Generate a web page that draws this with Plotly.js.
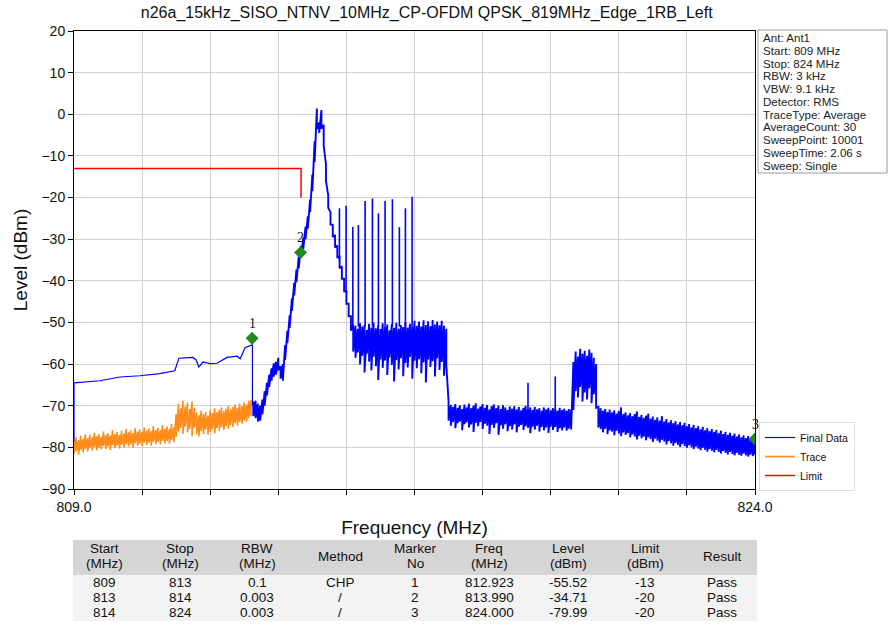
<!DOCTYPE html>
<html><head><meta charset="utf-8">
<script src="https://cdn.plot.ly/plotly-3.0.1.min.js"></script>
<style>html,body{margin:0;padding:0;background:#fff}#chart{width:889px;height:627px}</style>
</head><body><div id="chart"></div>
<script>
// ---------- DATA ----------
const chartTitle = 'n26a_15kHz_SISO_NTNV_10MHz_CP-OFDM QPSK_819MHz_Edge_1RB_Left';
const xTickVals = [809, 810.5, 812, 813.5, 815, 816.5, 818, 819.5, 821, 822.5, 824];
const xTickText = ['809.0', '', '', '', '', '', '', '', '', '', '824.0'];

// Final Data, 100 kHz CHP part (809 - 812.93 MHz)
const chpFreq  = [809.0, 809.0, 809.57, 810.01, 810.45, 810.89, 811.22, 811.27, 811.31, 811.45, 811.62, 811.69, 811.75, 811.84, 812.0, 812.15, 812.37, 812.59, 812.66, 812.77, 812.93, 812.93];
const chpLevel = [-80, -64.5, -64.0, -63.1, -62.8, -62.3, -61.6, -59.6, -58.6, -58.5, -58.4, -59.0, -60.7, -59.5, -59.9, -59.8, -58.4, -58.1, -58.7, -56.0, -55.4, -70.0];

// Final Data, noisy 3 kHz part: frequency, upper and lower edge of the noise
const blueFreq = [
 812.95,813.00,813.05,813.10,813.15,813.20,813.25,813.30,813.35,813.40,
 813.45,813.50,813.55,813.60,813.65,813.70,813.75,813.80,813.85,813.90,
 813.95,814.00,814.05,814.10,814.15,814.20,814.25,814.30,814.35,814.40,
 814.45,814.50,814.55,814.60,814.65,814.70,814.75,814.80,814.85,814.90,
 814.95,815.00,815.05,815.10,815.15,815.20,815.25,815.30,815.35,815.40,
 815.45,815.50,815.55,815.60,815.65,815.70,815.75,815.80,815.85,815.90,
 815.95,816.00,816.05,816.10,816.15,816.20,816.25,816.30,816.35,816.40,
 816.45,816.50,816.55,816.60,816.65,816.70,816.75,816.80,816.85,816.90,
 816.95,817.00,817.05,817.10,817.15,817.20,817.25,817.30,817.35,817.40,
 817.45,817.50,817.55,817.60,817.65,817.70,817.75,817.80,817.85,817.90,
 817.95,818.00,818.05,818.10,818.15,818.20,818.25,818.30,818.35,818.40,
 818.45,818.50,818.55,818.60,818.65,818.70,818.75,818.80,818.85,818.90,
 818.95,819.00,819.05,819.10,819.15,819.20,819.25,819.30,819.35,819.40,
 819.45,819.50,819.55,819.60,819.65,819.70,819.75,819.80,819.85,819.90,
 819.95,820.00,820.05,820.10,820.15,820.20,820.25,820.30,820.35,820.40,
 820.45,820.50,820.55,820.60,820.65,820.70,820.75,820.80,820.85,820.90,
 820.95,821.00,821.05,821.10,821.15,821.20,821.25,821.30,821.35,821.40,
 821.45,821.50,821.55,821.60,821.65,821.70,821.75,821.80,821.85,821.90,
 821.95,822.00,822.05,822.10,822.15,822.20,822.25,822.30,822.35,822.40,
 822.45,822.50,822.55,822.60,822.65,822.70,822.75,822.80,822.85,822.90,
 822.95,823.00,823.05,823.10,823.15,823.20,823.25,823.30,823.35,823.40,
 823.45,823.50,823.55,823.60,823.65,823.70,823.75,823.80,823.85,823.90,
 823.95,824.00];
const blueHi = [
 -69.0,-68.8,-69.5,-70.0,-68.5,-66.5,-64.5,-62.5,-61.0,-59.8,
 -59.5,-58.5,-60.5,-60.0,-55.5,-52.0,-48.3,-44.2,-40.5,-37.3,
 -34.2,-31.6,-29.6,-27.0,-24.5,-20.5,-14.5,-6.5,1.4,-2.0,
 1.0,-2.5,-12.0,-19.5,-23.5,-26.5,-29.0,-31.5,-34.0,-36.5,
 -39.5,-42.5,-45.5,-48.5,-50.5,-50.8,-51.5,-50.2,-51.0,-50.6,
 -51.8,-50.3,-51.2,-50.0,-51.4,-50.7,-51.6,-50.2,-51.0,-50.5,
 -51.9,-50.4,-51.3,-50.1,-51.5,-50.6,-51.1,-49.9,-51.2,-50.3,
 -50.9,-49.6,-50.8,-49.8,-51.0,-49.5,-50.6,-49.7,-50.9,-49.4,
 -50.5,-49.8,-50.7,-49.6,-50.8,-51.5,-69.0,-69.8,-70.3,-69.6,
 -70.5,-69.9,-70.8,-69.7,-70.4,-69.5,-70.6,-70.0,-69.4,-70.7,
 -70.2,-69.6,-70.5,-69.8,-70.9,-70.1,-69.7,-70.6,-70.0,-70.8,
 -69.9,-70.4,-71.0,-70.2,-70.7,-70.1,-70.9,-70.3,-71.1,-70.5,
 -70.0,-70.8,-70.4,-71.0,-70.3,-70.9,-70.6,-71.2,-70.4,-70.9,
 -70.5,-71.1,-70.6,-70.8,-71.2,-70.5,-71.0,-70.7,-71.2,-70.8,
 -71.0,-59.5,-57.0,-58.2,-56.3,-57.5,-56.8,-58.0,-56.5,-57.3,
 -58.5,-60.0,-70.3,-70.6,-71.2,-70.8,-71.5,-70.9,-71.6,-71.1,
 -71.9,-71.3,-70.4,-72.0,-71.6,-72.3,-71.8,-72.5,-72.0,-71.4,
 -72.7,-72.2,-72.9,-72.4,-71.9,-73.1,-72.6,-73.4,-72.8,-73.6,
 -72.5,-73.8,-73.2,-74.0,-73.5,-74.2,-73.7,-74.5,-73.9,-74.7,
 -74.1,-74.9,-74.4,-75.2,-74.6,-75.4,-74.9,-75.7,-75.1,-75.9,
 -75.4,-76.1,-75.6,-76.3,-75.8,-76.6,-76.0,-76.8,-76.3,-77.0,
 -76.5,-77.2,-76.7,-77.4,-76.9,-77.6,-77.1,-77.8,-77.3,-78.0,
 -77.6,-78.2];
const blueLo = [
 -72.5,-73.0,-73.8,-73.6,-72.0,-70.0,-67.5,-65.5,-64.0,-63.0,
 -62.5,-61.5,-63.5,-64.0,-59.0,-55.0,-51.3,-47.2,-43.5,-40.3,
 -37.0,-34.4,-32.4,-30.0,-27.5,-23.5,-18.5,-11.5,-3.5,-4.5,
 -3.5,-7.5,-16.0,-22.5,-26.5,-29.5,-32.0,-34.5,-37.0,-39.5,
 -42.5,-45.5,-48.5,-52.0,-57.0,-58.5,-57.2,-60.1,-58.0,-62.0,
 -57.5,-59.4,-61.5,-58.2,-60.5,-63.8,-58.9,-60.9,-59.1,-62.6,
 -58.4,-60.2,-64.2,-59.0,-61.3,-58.6,-62.9,-59.7,-60.8,-58.3,
 -63.5,-59.2,-61.0,-58.8,-62.2,-59.6,-64.4,-58.9,-60.7,-59.3,
 -63.0,-58.6,-61.4,-59.5,-62.8,-60.0,-73.6,-74.8,-73.9,-75.4,
 -74.2,-73.8,-75.9,-74.4,-74.0,-75.2,-74.5,-76.3,-74.1,-74.9,
 -73.9,-75.6,-74.3,-74.8,-76.8,-74.6,-75.3,-74.2,-77.0,-74.7,
 -75.5,-74.4,-76.1,-74.9,-75.7,-74.5,-76.4,-75.0,-74.6,-75.8,
 -74.9,-75.3,-76.6,-75.0,-75.7,-74.8,-76.2,-75.1,-75.9,-75.2,
 -76.5,-75.0,-75.8,-75.1,-76.3,-75.4,-75.9,-75.2,-76.0,-75.5,
 -75.7,-71.0,-66.5,-68.0,-65.5,-69.0,-66.8,-68.5,-65.8,-69.4,
 -67.2,-70.5,-75.2,-75.6,-76.4,-75.5,-76.8,-75.9,-76.2,-77.1,
 -76.0,-76.7,-77.3,-76.4,-77.0,-76.6,-77.6,-76.9,-77.4,-78.1,
 -77.2,-77.8,-77.4,-78.3,-77.6,-78.0,-78.7,-77.9,-78.4,-78.9,
 -78.2,-78.6,-79.3,-78.5,-79.0,-79.6,-78.9,-79.4,-79.9,-79.2,
 -79.7,-80.1,-79.5,-80.0,-80.4,-79.8,-80.3,-80.7,-80.1,-80.6,
 -81.0,-80.4,-80.8,-81.2,-80.6,-81.1,-81.5,-80.9,-81.3,-81.7,
 -81.1,-81.6,-81.9,-81.3,-81.8,-82.0,-81.5,-81.9,-82.2,-81.7,
 -82.1,-81.8];

// Narrow spurs on the Final Data trace
const spurFreq  = [814.846, 814.993, 815.141, 815.264, 815.412, 815.573, 815.705, 815.852, 816.013, 816.167, 816.300, 816.447, 819.00, 819.60];
const spurTop   = [-22.6, -22.0, -27.0, -26.6, -20.8, -20.2, -23.8, -20.8, -20.4, -27.1, -22.6, -19.8, -64.5, -63.0];
const spurBase  = [-35.0, -43.0, -51.0, -51.0, -51.0, -51.0, -51.0, -51.0, -51.0, -51.0, -51.0, -51.0, -71.0, -71.0];

// Trace (orange), 809 - 812.90 MHz
const orangeFreq = [
 809.00,809.05,809.10,809.15,809.20,809.25,809.30,809.35,809.40,809.45,
 809.50,809.55,809.60,809.65,809.70,809.75,809.80,809.85,809.90,809.95,
 810.00,810.05,810.10,810.15,810.20,810.25,810.30,810.35,810.40,810.45,
 810.50,810.55,810.60,810.65,810.70,810.75,810.80,810.85,810.90,810.95,
 811.00,811.05,811.10,811.15,811.20,811.25,811.30,811.35,811.40,811.45,
 811.50,811.55,811.60,811.65,811.70,811.75,811.80,811.85,811.90,811.95,
 812.00,812.05,812.10,812.15,812.20,812.25,812.30,812.35,812.40,812.45,
 812.50,812.55,812.60,812.65,812.70,812.75,812.80,812.85,812.90];
const orangeHi = [
 -78.5,-77.6,-78.3,-77.2,-78.0,-76.9,-77.8,-77.0,-77.6,-76.5,
 -77.3,-76.8,-77.5,-76.2,-77.0,-76.6,-77.2,-75.9,-76.8,-76.3,
 -77.0,-76.0,-76.7,-75.6,-76.4,-75.9,-76.6,-75.4,-76.2,-75.7,
 -76.3,-75.2,-76.0,-75.5,-76.1,-74.9,-75.8,-75.3,-75.9,-74.6,
 -75.5,-75.0,-75.6,-74.4,-75.2,-72.0,-69.5,-70.6,-68.8,-70.2,
 -69.3,-70.8,-69.0,-70.5,-71.6,-72.3,-71.2,-72.0,-71.5,-72.4,
 -71.0,-71.8,-70.6,-71.5,-71.0,-70.4,-71.3,-70.7,-70.1,-70.9,
 -70.3,-69.7,-70.5,-69.5,-70.1,-69.2,-69.7,-68.8,-68.6];
const orangeLo = [
 -81.5,-80.9,-81.8,-80.6,-81.2,-80.4,-81.0,-80.2,-80.8,-79.9,
 -80.7,-80.1,-80.5,-79.7,-80.4,-79.8,-80.6,-79.5,-80.2,-79.6,
 -80.3,-79.4,-80.0,-79.2,-79.8,-79.3,-80.1,-79.0,-79.6,-79.1,
 -79.7,-78.8,-79.4,-78.9,-79.6,-78.6,-79.2,-78.7,-79.3,-78.4,
 -79.0,-78.5,-79.1,-78.2,-78.8,-77.5,-76.2,-75.4,-76.8,-75.0,
 -76.4,-75.6,-77.3,-75.2,-76.9,-77.4,-76.1,-76.8,-75.7,-77.0,
 -76.3,-75.6,-76.6,-75.4,-76.0,-75.2,-75.8,-74.9,-75.5,-74.6,
 -75.1,-74.2,-74.8,-73.9,-74.3,-73.5,-73.8,-72.9,-72.5];

// Limit line
const limitFreq  = [809, 814, 814];
const limitLevel = [-13, -13, -20];

// Markers
const markerNo    = ['1', '2', '3'];
const markerFreq  = [812.923, 813.990, 824.000];
const markerLevel = [-53.8, -33.2, -78.0];

// Info box
const infoLines = ['Ant: Ant1', 'Start: 809 MHz', 'Stop: 824 MHz', 'RBW: 3 kHz', 'VBW: 9.1 kHz', 'Detector: RMS',
  'TraceType: Average', 'AverageCount: 30', 'SweepPoint: 10001', 'SweepTime: 2.06 s', 'Sweep: Single'];

// Result table
const tableHeader = [['Start', '(MHz)'], ['Stop', '(MHz)'], ['RBW', '(MHz)'], ['Method'], ['Marker', 'No'],
                     ['Freq', '(MHz)'], ['Level', '(dBm)'], ['Limit', '(dBm)'], ['Result']];
const colStart  = ['809', '813', '814'];
const colStop   = ['813', '814', '824'];
const colRBW    = ['0.1', '0.003', '0.003'];
const colMethod = ['CHP', '/', '/'];
const colMarker = ['1', '2', '3'];
const colFreq   = ['812.923', '813.990', '824.000'];
const colLevel  = ['-55.52', '-34.71', '-79.99'];
const colLimit  = ['-13', '-20', '-20'];
const colResult = ['Pass', 'Pass', 'Pass'];

// ---------- BUILD ----------
function zig(f, hi, lo) {
  const x = [], y = [];
  for (let i = 0; i < f.length; i++) { x.push(f[i], f[i]); y.push(hi[i], lo[i]); }
  return {x, y};
}
function spikes(f, top, base) {
  const x = [], y = [];
  for (let i = 0; i < f.length; i++) { x.push(f[i], f[i], null); y.push(base[i], top[i], null); }
  return {x, y};
}
const FONT = 'Liberation Sans, Arial, sans-serif';
const BLUE = '#0000ff', ORANGE = '#ff8c1a', RED = '#ff0000';
const blueZ = zig(blueFreq, blueHi, blueLo);
const orZ = zig(orangeFreq, orangeHi, orangeLo);
const sp = spikes(spurFreq, spurTop, spurBase);

// pixel helpers for layout placement (plot area: l=74, t=31)
const W = 889, H = 627, ML = 74, MR = 134, MT = 31, MB = 5;
const PW = W - ML - MR, PH = H - MT - MB;
const px = v => (v - ML) / PW;
const py = v => (H - MB - v) / PH;
const axisBottom = 489;

const traces = [
  {x: chpFreq, y: chpLevel, type: 'scatter', mode: 'lines', name: 'Final Data', legendgroup: 'fd',
   line: {color: BLUE, width: 1.2}},
  {x: blueZ.x, y: blueZ.y, type: 'scatter', mode: 'lines', showlegend: false, legendgroup: 'fd',
   line: {color: BLUE, width: 1.9}, hoverinfo: 'skip'},
  {x: sp.x, y: sp.y, type: 'scatter', mode: 'lines', showlegend: false, legendgroup: 'fd',
   line: {color: BLUE, width: 1.6}, hoverinfo: 'skip'},
  {x: orZ.x, y: orZ.y, type: 'scatter', mode: 'lines', name: 'Trace',
   line: {color: ORANGE, width: 1.6}},
  {x: limitFreq, y: limitLevel, type: 'scatter', mode: 'lines', name: 'Limit',
   line: {color: RED, width: 1.5}},
  {x: markerFreq, y: markerLevel, type: 'scatter', mode: 'markers', showlegend: false,
   marker: {symbol: 'diamond', size: 10, color: '#1f8a1f'}}
];

const annotations = markerNo.map((t, i) => ({
  x: markerFreq[i], y: markerLevel[i], xref: 'x', yref: 'y', text: t, showarrow: false,
  yshift: 15, font: {family: 'Liberation Serif, serif', size: 14, color: '#111'}
}));
infoLines.forEach((t, i) => annotations.push({
  x: px(762), y: py(37.7 + i * 12.73), xref: 'paper', yref: 'paper', xanchor: 'left', yanchor: 'middle',
  text: t, showarrow: false, borderpad: 0, font: {family: FONT, size: 11.6, color: '#222'}
}));

// table drawn as cells (shapes + text) from the table arrays
const colCenters = [104, 180, 257, 340, 415, 489, 568, 645, 722];
const rowCenters = [582, 597, 612];
const tableCols = [colStart, colStop, colRBW, colMethod, colMarker, colFreq, colLevel, colLimit, colResult];
const TFONT = {family: FONT, size: 13.5, color: '#111'};
tableHeader.forEach((lines, c) => {
  const ys = lines.length === 2 ? [548, 563] : [556];
  lines.forEach((t, k) => annotations.push({
    x: px(colCenters[c]), y: py(ys[k]), xref: 'paper', yref: 'paper', xanchor: 'center', yanchor: 'middle',
    text: t, showarrow: false, borderpad: 0, font: TFONT
  }));
});
tableCols.forEach((col, c) => col.forEach((t, r) => annotations.push({
  x: px(colCenters[c]), y: py(rowCenters[r]), xref: 'paper', yref: 'paper', xanchor: 'center', yanchor: 'middle',
  text: t, showarrow: false, borderpad: 0, font: TFONT
})));

const shapes = [
  {type: 'rect', xref: 'paper', yref: 'paper', x0: px(758), x1: px(887), y0: py(173), y1: py(30),
   line: {color: '#9a9a9a', width: 1}, fillcolor: 'rgba(0,0,0,0)'},
  {type: 'rect', xref: 'paper', yref: 'paper', x0: px(73), x1: px(757), y0: py(575), y1: py(540),
   line: {width: 0}, fillcolor: '#d5d5d5', layer: 'below'},
  {type: 'rect', xref: 'paper', yref: 'paper', x0: px(73), x1: px(757), y0: py(621), y1: py(575),
   line: {width: 0}, fillcolor: '#f3f3f3', layer: 'below'}
];

const layout = {
  width: W, height: H,
  margin: {l: ML, r: MR, t: MT, b: MB},
  paper_bgcolor: '#ffffff', plot_bgcolor: 'rgba(0,0,0,0)',
  font: {family: FONT, color: '#111'},
  title: {text: chartTitle, x: 0.48, xanchor: 'center', xref: 'container', y: 1 - 12 / H, yanchor: 'middle',
          font: {family: FONT, size: 16, color: '#111'}},
  xaxis: {range: [809, 824], tickmode: 'array', tickvals: xTickVals, ticktext: xTickText,
          showline: true, mirror: true, linecolor: '#000', linewidth: 1,
          ticks: 'outside', ticklen: 5, tickcolor: '#000', showgrid: true, gridcolor: '#d0d0d0', zeroline: false,
          tickfont: {family: FONT, size: 14, color: '#111'},
          title: {text: 'Frequency (MHz)', font: {family: FONT, size: 19, color: '#111'}, standoff: 6}},
  yaxis: {domain: [py(axisBottom), 1], range: [-90, 20], tick0: -90, dtick: 10,
          showline: true, mirror: true, linecolor: '#000', linewidth: 1,
          ticks: 'outside', ticklen: 5, tickcolor: '#000', showgrid: true, gridcolor: '#d0d0d0', zeroline: false,
          tickfont: {family: FONT, size: 14, color: '#111'},
          title: {text: 'Level (dBm)', font: {family: FONT, size: 19, color: '#111'}, standoff: 8}},
  legend: {x: px(759), y: py(491), xanchor: 'left', yanchor: 'bottom', bgcolor: '#ffffff',
           bordercolor: '#dddddd', borderwidth: 1, font: {family: FONT, size: 10.5, color: '#111'},
           itemwidth: 30, tracegroupgap: 0},
  shapes: shapes,
  annotations: annotations,
  showlegend: true
};

Plotly.newPlot('chart', traces, layout, {displayModeBar: false, staticPlot: true});
</script></body></html>
